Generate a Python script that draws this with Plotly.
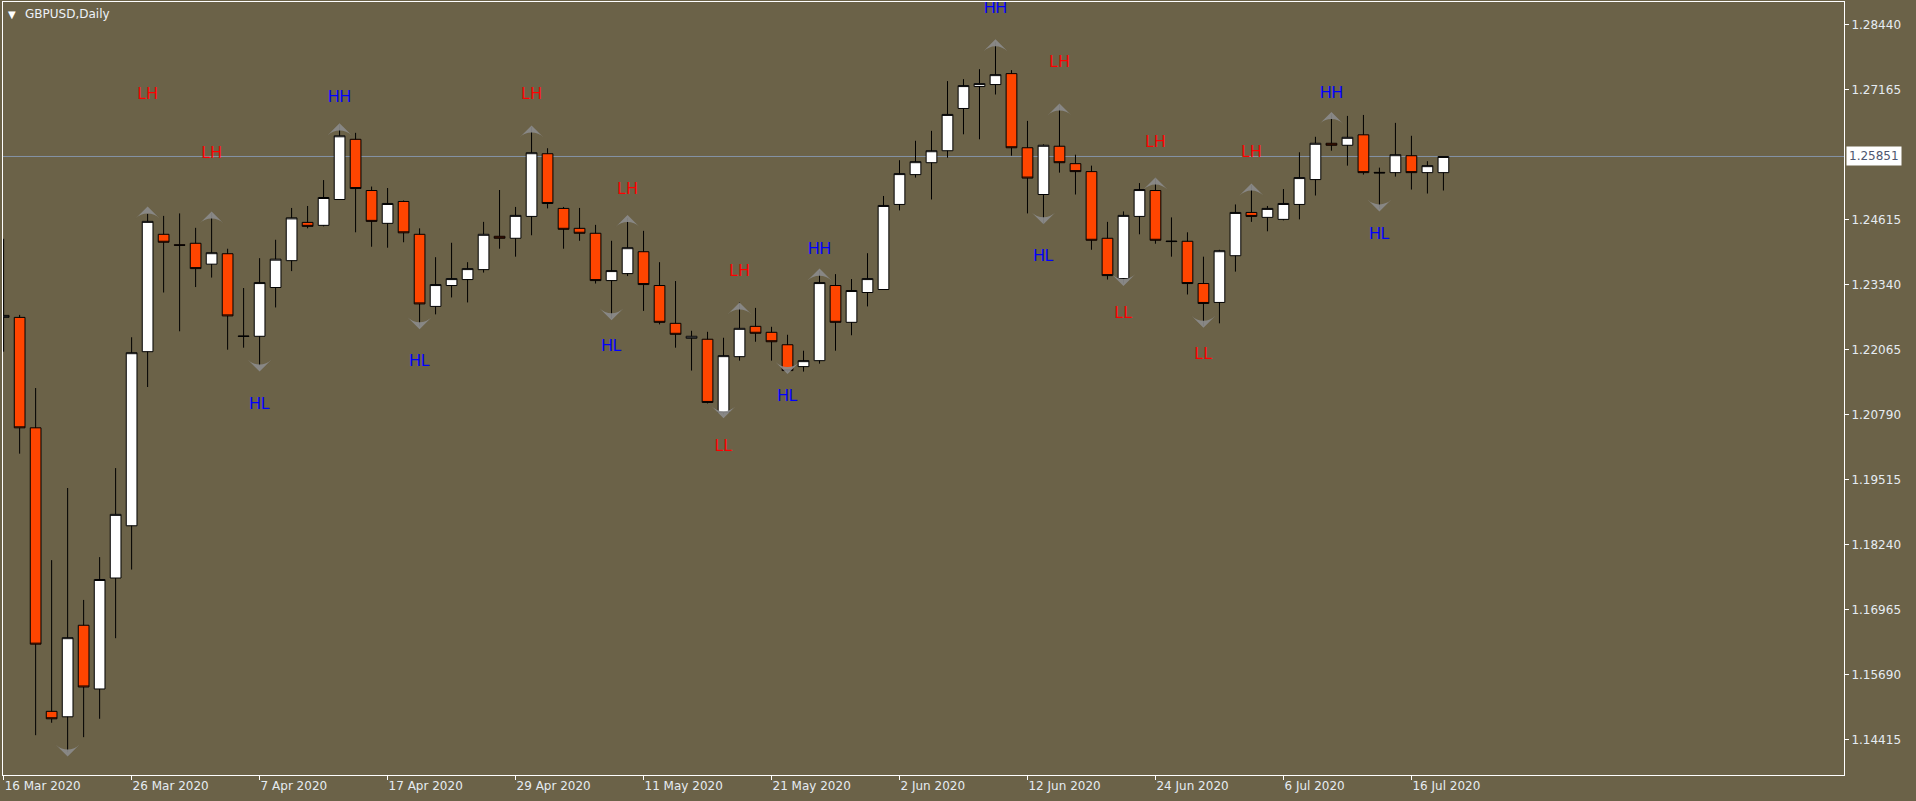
import plotly.graph_objects as go

# ---------------- data ----------------
tick_index = [0, 8, 16, 24, 32, 40, 48, 56, 64, 72, 80, 88]
tick_labels = ["16 Mar 2020", "26 Mar 2020", "7 Apr 2020", "17 Apr 2020", "29 Apr 2020",
               "11 May 2020", "21 May 2020", "2 Jun 2020", "12 Jun 2020", "24 Jun 2020",
               "6 Jul 2020", "16 Jul 2020"]

opens = [1.22694, 1.22694, 1.20527, 1.14964, 1.14857, 1.16653, 1.15403, 1.17580, 1.18605, 1.22021,
         1.24324, 1.24119, 1.24148, 1.23738, 1.23943, 1.22330, 1.22323, 1.23280, 1.23807, 1.24558,
         1.24500, 1.25007, 1.26188, 1.25183, 1.24539, 1.24968, 1.24324, 1.22909, 1.23319, 1.23436,
         1.23631, 1.24285, 1.24246, 1.24675, 1.25905, 1.24832, 1.24441, 1.24344, 1.23416, 1.23553,
         1.23982, 1.23319, 1.22577, 1.22284, 1.22265, 1.20830, 1.21923, 1.22518, 1.22401, 1.22157,
         1.21728, 1.21845, 1.23319, 1.22597, 1.23182, 1.23241, 1.24910, 1.25495, 1.25729, 1.25964,
         1.26793, 1.27223, 1.27262, 1.27477, 1.26022, 1.25105, 1.26052, 1.25710, 1.25554, 1.24246,
         1.23455, 1.24675, 1.25183, 1.24192, 1.24187, 1.23358, 1.22987, 1.23904, 1.24753, 1.24656,
         1.24617, 1.24910, 1.25398, 1.26110, 1.26071, 1.26276, 1.25539, 1.25534, 1.25866, 1.25534,
         1.25534]
highs = [1.24236, 1.22743, 1.21308, 1.17931, 1.19346, 1.17150, 1.17990, 1.19737, 1.22304, 1.24724,
         1.24685, 1.24734, 1.24451, 1.24744, 1.24041, 1.23270, 1.23856, 1.24217, 1.24841, 1.24880,
         1.25388, 1.26481, 1.26315, 1.25261, 1.25232, 1.24988, 1.24441, 1.23875, 1.24158, 1.23777,
         1.24568, 1.25193, 1.24861, 1.26432, 1.26013, 1.24861, 1.24841, 1.24509, 1.24197, 1.24646,
         1.24392, 1.23777, 1.23407, 1.22431, 1.22411, 1.22294, 1.22987, 1.22880, 1.22509, 1.22353,
         1.22040, 1.23602, 1.23543, 1.23446, 1.23953, 1.25076, 1.25778, 1.26159, 1.26354, 1.27330,
         1.27369, 1.27564, 1.28091, 1.27545, 1.26549, 1.26090, 1.26871, 1.25886, 1.25671, 1.24568,
         1.24773, 1.25329, 1.25427, 1.24656, 1.24363, 1.23885, 1.24021, 1.24910, 1.25290, 1.24880,
         1.25212, 1.25934, 1.26237, 1.26676, 1.26647, 1.26666, 1.25632, 1.26510, 1.26257, 1.25759,
         1.25851]
lows = [1.22021, 1.20020, 1.14496, 1.14740, 1.14160, 1.14457, 1.14818, 1.16399, 1.17746, 1.21328,
        1.23182, 1.22421, 1.23289, 1.23475, 1.22060, 1.22099, 1.21747, 1.22889, 1.23602, 1.24441,
        1.24480, 1.25007, 1.24363, 1.24080, 1.24061, 1.24168, 1.22518, 1.22753, 1.23085, 1.22987,
        1.23573, 1.24041, 1.23885, 1.24305, 1.24832, 1.24041, 1.24197, 1.23358, 1.22675, 1.23504,
        1.22821, 1.22557, 1.22099, 1.21650, 1.21006, 1.20791, 1.21845, 1.22216, 1.21845, 1.21621,
        1.21630, 1.21786, 1.22040, 1.22343, 1.22909, 1.23241, 1.24793, 1.25437, 1.25007, 1.25827,
        1.26286, 1.26188, 1.27067, 1.25866, 1.24734, 1.24529, 1.25534, 1.25105, 1.24021, 1.23436,
        1.23358, 1.24324, 1.24139, 1.23885, 1.23143, 1.22528, 1.22577, 1.23592, 1.24568, 1.24383,
        1.24597, 1.24617, 1.25085, 1.25964, 1.25671, 1.25495, 1.24822, 1.25456, 1.25202, 1.25124,
        1.25183]
closes = [1.22733, 1.20527, 1.16282, 1.14818, 1.16409, 1.15442, 1.17551, 1.18829, 1.22001, 1.24578,
          1.24168, 1.24109, 1.23651, 1.23963, 1.22723, 1.22320, 1.23377, 1.23836, 1.24646, 1.24480,
          1.25046, 1.26257, 1.25222, 1.24578, 1.24929, 1.24353, 1.22958, 1.23338, 1.23455, 1.23651,
          1.24324, 1.24246, 1.24695, 1.25925, 1.24929, 1.24422, 1.24344, 1.23416, 1.23612, 1.24061,
          1.23338, 1.22597, 1.22362, 1.22323, 1.21025, 1.21943, 1.22479, 1.22382, 1.22216, 1.21650,
          1.21845, 1.23377, 1.22597, 1.23221, 1.23455, 1.24890, 1.25515, 1.25749, 1.25964, 1.26676,
          1.27242, 1.27281, 1.27457, 1.26022, 1.25427, 1.26071, 1.25729, 1.25554, 1.24207, 1.23514,
          1.24695, 1.25202, 1.24207, 1.24182, 1.23358, 1.22967, 1.24002, 1.24753, 1.24675, 1.24832,
          1.24929, 1.25437, 1.26110, 1.26071, 1.26227, 1.25534, 1.25529, 1.25886, 1.25534, 1.25671,
          1.25851]

up_idx = [9, 13, 21, 33, 39, 46, 51, 62, 66, 72, 78, 83]
up_price = [1.24871, 1.24773, 1.26501, 1.26461, 1.24705, 1.22987, 1.23651, 1.28150, 1.26891,
            1.25437, 1.25320, 1.26725]
down_idx = [4, 16, 26, 38, 45, 49, 65, 70, 75, 86]
down_price = [1.14076, 1.21630, 1.22460, 1.22636, 1.20713, 1.21581, 1.24519, 1.23309, 1.22489, 1.24773]

label_idx = [9, 13, 16, 21, 26, 33, 38, 39, 45, 46, 49, 51, 62, 65, 66, 70, 72, 75, 78, 83, 86]
label_text = ["LH", "LH", "HL", "HH", "HL", "LH", "HL", "LH", "LL", "LH", "HL", "HH", "HH", "HL",
              "LH", "LL", "LH", "LL", "LH", "HH", "HL"]
label_price = [1.27067, 1.25895, 1.20967, 1.27008, 1.21825, 1.27067, 1.22118, 1.25202, 1.20157,
               1.23592, 1.21133, 1.24012, 1.28740, 1.23875, 1.27691, 1.22753, 1.26120, 1.21962,
               1.25925, 1.27086, 1.24314]

y_ticks = [1.14415, 1.15690, 1.16965, 1.18240, 1.19515, 1.20790, 1.22065, 1.23340, 1.24615,
           1.27165, 1.28440]
y_tick_text = ["1.14415", "1.15690", "1.16965", "1.18240", "1.19515", "1.20790", "1.22065",
               "1.23340", "1.24615", "1.27165", "1.28440"]
bid_price = 1.25851
symbol_title = "GBPUSD,Daily"

# ---------------- figure ----------------
BG = "#6B6248"
x = list(range(len(opens)))

fig = go.Figure()

fig.add_trace(go.Candlestick(
    x=x, open=opens, high=highs, low=lows, close=closes,
    increasing=dict(fillcolor="#FFFFFF", line=dict(color="#000000", width=1)),
    decreasing=dict(fillcolor="#FF4500", line=dict(color="#000000", width=1)),
    whiskerwidth=0, hoverinfo="skip", showlegend=False,
))

ARROW = "rgba(140,140,140,0.9)"
fig.add_trace(go.Scatter(
    x=up_idx, y=up_price, mode="markers",
    marker=dict(symbol="arrow-wide", angle=0, size=17, color=ARROW, line=dict(width=0)),
    hoverinfo="skip", showlegend=False,
))
fig.add_trace(go.Scatter(
    x=down_idx, y=down_price, mode="markers",
    marker=dict(symbol="arrow-wide", angle=180, size=17, color=ARROW, line=dict(width=0)),
    hoverinfo="skip", showlegend=False,
))

label_colors = ["#0000FF" if t in ("HH", "HL") else "#FF0000" for t in label_text]
fig.add_trace(go.Scatter(
    x=label_idx, y=label_price, mode="text", text=label_text,
    textfont=dict(family="Liberation Sans, Arial, sans-serif", size=16, color=label_colors),
    textposition="middle center", hoverinfo="skip", showlegend=False,
))

# bid line
fig.add_shape(type="line", xref="paper", x0=0, x1=1, yref="y", y0=bid_price, y1=bid_price,
              line=dict(color="#8492A6", width=1), layer="below")

fig.add_annotation(xref="paper", x=1, xanchor="left", xshift=2, yref="y", y=bid_price,
                   text=f"{bid_price:.5f}", showarrow=False, bgcolor="#FFFFFF",
                   font=dict(family="DejaVu Sans", size=12, color="#4E5670"), borderpad=2)

# title
fig.add_annotation(xref="paper", x=0, xanchor="left", xshift=3, yref="paper", y=1, yanchor="middle",
                   yshift=-12, text="▼", showarrow=False,
                   font=dict(family="DejaVu Sans", size=10, color="#FFFFFF"))
fig.add_annotation(xref="paper", x=0, xanchor="left", xshift=20, yref="paper", y=1, yanchor="middle",
                   yshift=-12, text=symbol_title, showarrow=False,
                   font=dict(family="DejaVu Sans", size=12, color="#EEF2F8"))

fig.update_layout(
    width=1916, height=801,
    margin=dict(l=3, r=72, t=2, b=26),
    paper_bgcolor=BG, plot_bgcolor=BG,
    font=dict(family="DejaVu Sans", size=12, color="#E6ECF2"),
    showlegend=False,
    boxgap=0.33, boxgroupgap=0,
    xaxis=dict(
        range=[-0.04, 115.04], rangeslider=dict(visible=False),
        showgrid=False, zeroline=False,
        tickmode="array", tickvals=tick_index, ticktext=tick_labels,
        ticks="outside", ticklen=4, tickcolor="#FFFFFF", tickwidth=1,
        ticklabelposition="outside right",
        showline=True, linecolor="#FFFFFF", linewidth=1, mirror=True,
        tickfont=dict(family="DejaVu Sans", size=12, color="#E6ECF2"),
    ),
    yaxis=dict(
        range=[1.13715, 1.28882], side="right",
        showgrid=False, zeroline=False,
        tickmode="array", tickvals=y_ticks, ticktext=y_tick_text,
        ticks="outside", ticklen=4, tickcolor="#FFFFFF", tickwidth=1,
        showline=True, linecolor="#FFFFFF", linewidth=1, mirror=True,
        tickfont=dict(family="DejaVu Sans", size=12, color="#E6ECF2"),
    ),
)

fig.write_html("out.html")
